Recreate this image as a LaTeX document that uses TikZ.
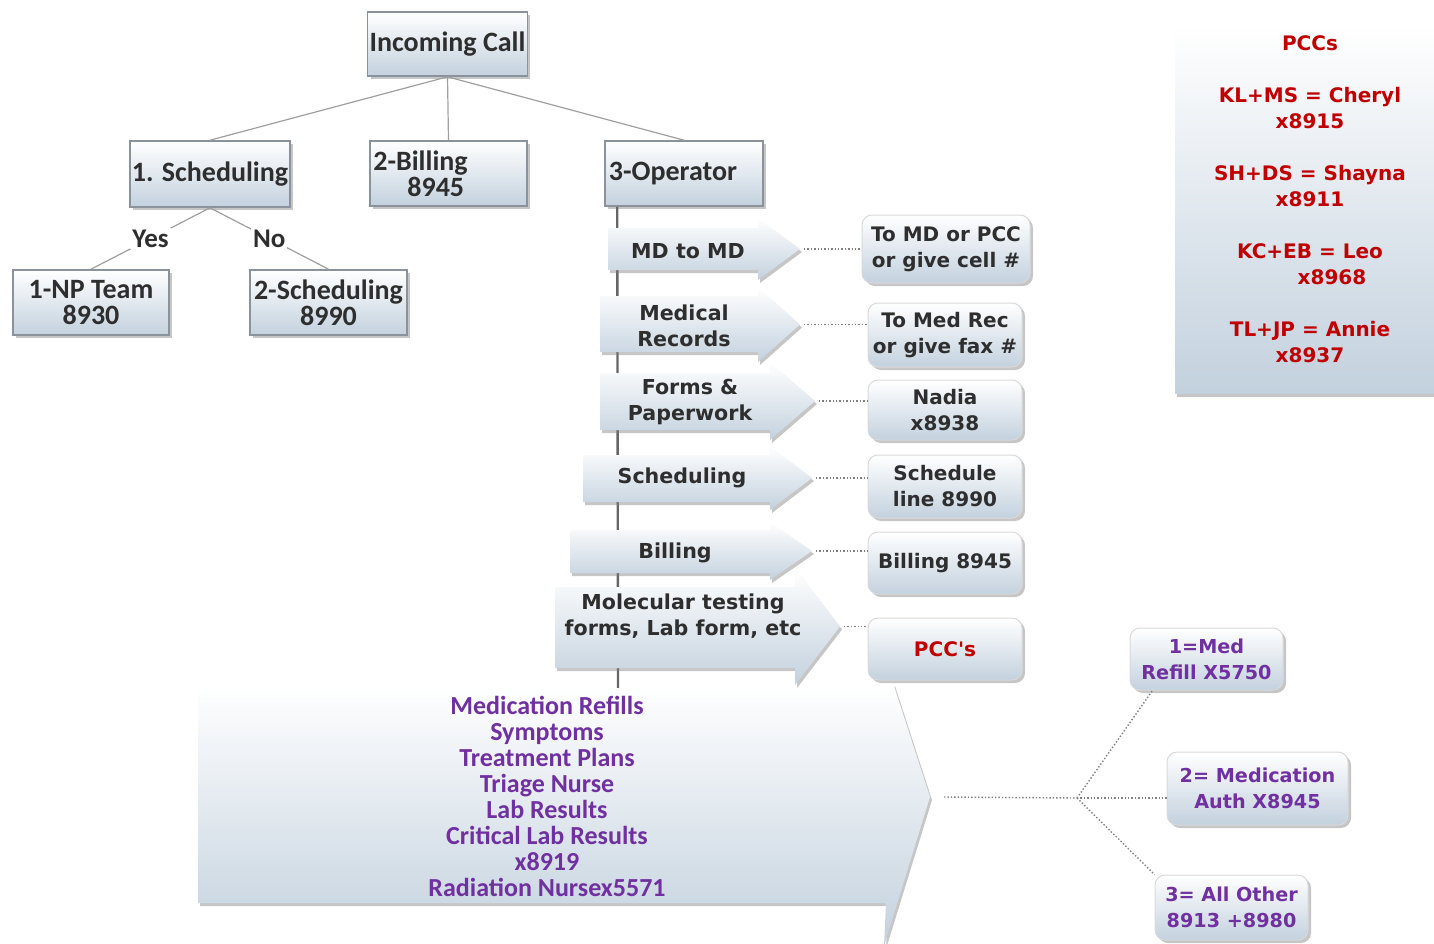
\documentclass[tikz,border=0pt]{standalone}
\usepackage{fontspec}
\setmainfont{Carlito}
\newfontfamily\vfont{DejaVu Sans}
\usetikzlibrary{shadows}
\definecolor{boxblue}{HTML}{C3D1DE}
\definecolor{bordergray}{HTML}{8A939B}
\definecolor{txt}{HTML}{2E2E2E}
\definecolor{purp}{HTML}{7030A0}
\definecolor{redt}{HTML}{C00000}
\newcommand\mychev[8]{%
  \path[arrowfill] (#2,#4) -- (#3,#4) -- (#3,#6) -- (#8,{(#6+#7)/2}) -- (#3,#7) -- (#3,#5) -- (#2,#5) -- cycle;
  \coordinate (#1) at (#8,{(#6+#7)/2});}
\begin{document}
\begin{tikzpicture}[x=0.5pt,y=-0.5pt,
  treebox/.style={draw=bordergray, line width=0.8pt, top color=white, bottom color=boxblue,
    drop shadow={shadow xshift=1.5pt,shadow yshift=-1.5pt,opacity=.45},
    font=\bfseries\fontsize{14}{13}\selectfont, text=txt, align=center, inner sep=1pt},
  arrowfill/.style={top color=white, bottom color=boxblue,
    drop shadow={shadow xshift=1pt,shadow yshift=-1.5pt,opacity=.45}},
  atext/.style={font=\vfont\bfseries\fontsize{10.3}{13}\selectfont, text=txt, align=center, inner sep=0pt},
  rbox/.style={rounded corners=5pt, draw=white!85!black, line width=0.5pt, top color=white, bottom color=boxblue,
    drop shadow={shadow xshift=1.5pt,shadow yshift=-1.5pt,opacity=.45},
    font=\vfont\bfseries\fontsize{10}{13}\selectfont, text=txt, align=center, inner sep=1pt},
  pbox/.style={rbox, text=purp, font=\vfont\bfseries\fontsize{9.6}{13}\selectfont},
  treeline/.style={draw=gray!75, line width=0.6pt},
  conn/.style={draw=gray, densely dotted, line width=0.7pt},
  lbl/.style={fill=white, font=\bfseries\fontsize{13.5}{13}\selectfont, text=txt, inner sep=1pt}
]
\useasboundingbox (0,0) rectangle (1434,943);

% ---------- tree ----------
\node[treebox, minimum width=79.5pt, minimum height=32pt] (inc) at (447.5,44) {Incoming Call};
\node[treebox, minimum width=80pt, minimum height=33pt] (sch) at (210,174) {1. Scheduling};
\node[treebox, minimum width=78.5pt, minimum height=32.5pt, align=left] (bil) at (448.5,173.5) {2-Billing\hspace*{28pt}\\\hspace*{17pt}8945};
\node[treebox, minimum width=79pt, minimum height=32.5pt] (op) at (684,173.5) {3-Operator\hspace*{11pt}};
\node[treebox, minimum width=78pt, minimum height=32.5pt] (np) at (91,302.5) {1-NP Team\\8930};
\node[treebox, minimum width=78.5pt, minimum height=32.5pt] (s2) at (328.5,302.5) {2-Scheduling\\8990};

\draw[treeline] (inc.south) -- (sch.north);
\draw[treeline] (inc.south) -- (bil.north);
\draw[treeline] (inc.south) -- (op.north);
\draw[treeline] (sch.south) -- node[lbl, pos=0.5] {Yes} (np.north);
\draw[treeline] (sch.south) -- node[lbl, pos=0.5] {No} (s2.north);

% operator spine
\coordinate (spinetop) at ([xshift=6.5pt]op.south west);
\coordinate (spinebot) at (618,690);
\draw[draw=gray!80!black, line width=1.2pt] (spinetop) -- (spinebot);

% ---------- chevron arrows ----------
\mychev{t1}{608}{758}{228}{270}{218}{280}{800}
\mychev{t2}{600}{758}{296}{352}{287}{362}{800}
\mychev{t3}{600}{770}{373}{430}{362}{440}{815}
\mychev{t4}{583}{770}{455}{502}{446}{510}{812}
\mychev{t5}{570}{770}{530}{573}{522}{580}{812}
\mychev{t6}{555}{795}{587}{668}{568}{685}{840}
\path[arrowfill] (198,688) -- (891,688) -- (893,683) -- (930,797) -- (884,946) -- (886,903) -- (198,903) -- cycle;
\coordinate (t7) at (930,797);

\node[atext] (a1) at (688,251) {MD to MD};
\node[atext] (a2) at (684,326) {Medical\\Records};
\node[atext] (a3) at (690,402) {Forms \&\\Paperwork};
\node[atext] (a4) at (682,478) {Scheduling};
\node[atext] (a5) at (675,553) {Billing};
\node[atext] (a6) at (683,616) {Molecular testing\\forms, Lab form, etc};
\node[font=\bfseries\fontsize{13}{13}\selectfont, text=purp, align=center, inner sep=0pt] (a7) at (547,796)
  {Medication Refills\\Symptoms\\Treatment Plans\\Triage Nurse\\Lab Results\\Critical Lab Results\\x8919\\Radiation Nursex5571};

% ---------- right boxes ----------
\node[rbox, minimum width=84pt, minimum height=34pt] (r1) at (946,249) {To MD or PCC\\or give cell \#};
\node[rbox, minimum width=77pt, minimum height=32pt] (r2) at (945,335) {To Med Rec\\or give fax \#};
\node[rbox, minimum width=77pt, minimum height=30pt] (r3) at (945,410) {Nadia\\x8938};
\node[rbox, minimum width=77pt, minimum height=31.5pt] (r4) at (945,486.5) {Schedule\\line 8990};
\node[rbox, minimum width=77pt, minimum height=31pt] (r5) at (945,563) {Billing 8945};
\node[rbox, minimum width=77pt, minimum height=31pt, text=redt] (r6) at (945,649) {PCC's};

\draw[conn] ([xshift=2pt]t1) -- (t1 -| r1.west);
\draw[conn] ([xshift=2pt]t2) -- (t2 -| r2.west);
\draw[conn] ([xshift=2pt]t3) -- (t3 -| r3.west);
\draw[conn] ([xshift=2pt]t4) -- (t4 -| r4.west);
\draw[conn] ([xshift=2pt]t5) -- (t5 -| r5.west);
\draw[conn] ([xshift=2pt]t6) -- (t6 -| r6.west);

% ---------- medication branch ----------
\node[pbox, minimum width=76.5pt, minimum height=31pt] (m1) at (1206.5,659) {1=Med\\Refill X5750};
\node[pbox, minimum width=90.5pt, minimum height=36.5pt] (m2) at (1257.5,788.5) {2= Medication\\Auth X8945};
\node[pbox, minimum width=76.5pt, minimum height=32.5pt] (m3) at (1231.5,907.5) {3= All Other\\8913 +8980};
\coordinate (jn) at (1077,798);
\draw[conn] ([xshift=7pt]t7) -- (jn);
\draw[conn] (jn) -- ([xshift=11.5pt]m1.south west);
\draw[conn] (jn) -- (jn -| m2.west);
\draw[conn] (jn) -- (m3.north west);

% ---------- PCCs panel ----------
\path[top color=white, bottom color=boxblue, drop shadow={shadow xshift=1pt,shadow yshift=-2pt,opacity=.45}]
  (1175,25) rectangle (1445,393);
\node[font=\vfont\bfseries\fontsize{10}{13}\selectfont, text=redt, align=center, inner sep=0pt] (pccs) at (1310,199)
  {PCCs\\[13pt]KL+MS = Cheryl\\x8915\\[13pt]SH+DS = Shayna\\x8911\\[13pt]KC+EB = Leo\\\hspace*{22pt}x8968\\[13pt]TL+JP = Annie\\x8937};
\end{tikzpicture}
\end{document}
